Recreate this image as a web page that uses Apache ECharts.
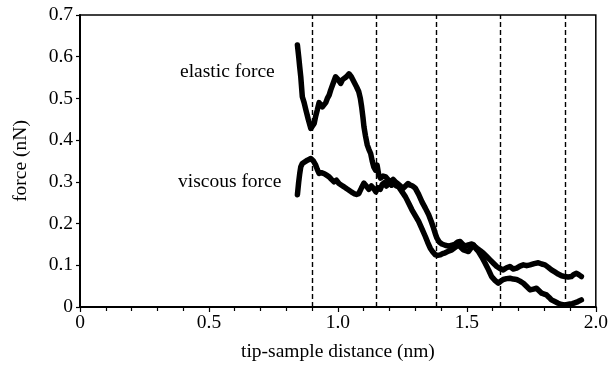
<!DOCTYPE html>
<html>
<head>
<meta charset="utf-8">
<script src="https://cdn.jsdelivr.net/npm/echarts@6/dist/echarts.min.js"></script>
<style>html,body{margin:0;padding:0;background:#fff}#c{width:611px;height:370px}</style>
</head>
<body>
<div id="c"></div>
<script>
var elasticX = [0.843,0.848,0.852,0.856,0.862,0.869,0.876,0.885,0.895,0.902,0.908,0.914,0.920,0.927,0.933,0.940,0.946,0.953,0.959,0.966,0.972,0.981,0.991,1.001,1.011,1.018,1.024,1.033,1.043,1.052,1.062,1.072,1.081,1.087,1.092,1.097,1.101,1.107,1.114,1.120,1.127,1.133,1.139,1.146,1.152,1.158,1.165,1.175,1.185,1.195,1.204,1.214,1.223,1.233,1.243,1.252,1.262,1.272,1.281,1.290,1.300,1.313,1.326,1.339,1.352,1.362,1.371,1.378,1.384,1.394,1.403,1.416,1.429,1.442,1.455,1.465,1.474,1.484,1.494,1.506,1.519,1.529,1.539,1.552,1.564,1.577,1.590,1.603,1.616,1.629,1.641,1.654,1.667,1.680,1.693,1.706,1.719,1.732,1.745,1.761,1.777,1.790,1.803,1.816,1.828,1.841,1.854,1.867,1.880,1.893,1.905,1.915,1.925,1.935,1.944];
var elasticY = [0.628,0.600,0.575,0.552,0.504,0.490,0.472,0.450,0.428,0.432,0.440,0.458,0.472,0.490,0.492,0.480,0.476,0.490,0.500,0.508,0.520,0.535,0.552,0.545,0.536,0.545,0.544,0.552,0.559,0.552,0.540,0.528,0.516,0.500,0.480,0.455,0.432,0.410,0.388,0.378,0.368,0.350,0.336,0.328,0.340,0.318,0.309,0.314,0.312,0.305,0.300,0.306,0.300,0.295,0.290,0.284,0.290,0.296,0.292,0.290,0.285,0.270,0.252,0.237,0.221,0.205,0.189,0.175,0.165,0.155,0.151,0.148,0.146,0.148,0.151,0.156,0.157,0.150,0.146,0.149,0.151,0.146,0.141,0.135,0.129,0.121,0.113,0.105,0.097,0.092,0.089,0.094,0.097,0.091,0.093,0.098,0.101,0.099,0.101,0.104,0.106,0.103,0.101,0.095,0.089,0.084,0.079,0.075,0.073,0.072,0.073,0.078,0.081,0.077,0.073];
var viscousX = [0.843,0.848,0.852,0.856,0.862,0.869,0.882,0.895,0.905,0.914,0.920,0.927,0.936,0.946,0.956,0.966,0.975,0.985,0.994,1.004,1.014,1.024,1.033,1.043,1.052,1.062,1.072,1.081,1.091,1.101,1.110,1.120,1.130,1.139,1.147,1.155,1.164,1.172,1.180,1.188,1.198,1.208,1.217,1.227,1.236,1.249,1.262,1.275,1.287,1.300,1.313,1.326,1.339,1.348,1.358,1.368,1.378,1.387,1.397,1.406,1.416,1.429,1.442,1.455,1.468,1.478,1.487,1.496,1.506,1.516,1.526,1.535,1.545,1.558,1.571,1.584,1.596,1.609,1.622,1.632,1.641,1.654,1.667,1.680,1.693,1.706,1.719,1.732,1.745,1.758,1.770,1.780,1.790,1.800,1.809,1.819,1.828,1.841,1.854,1.867,1.880,1.890,1.899,1.909,1.918,1.931,1.944];
var viscousY = [0.269,0.300,0.320,0.336,0.344,0.348,0.352,0.356,0.350,0.340,0.330,0.320,0.322,0.320,0.316,0.312,0.306,0.300,0.304,0.296,0.292,0.288,0.284,0.280,0.276,0.272,0.270,0.272,0.285,0.297,0.290,0.282,0.290,0.284,0.276,0.286,0.282,0.294,0.298,0.290,0.298,0.292,0.296,0.290,0.288,0.276,0.264,0.248,0.233,0.219,0.205,0.187,0.169,0.155,0.141,0.132,0.125,0.124,0.125,0.128,0.130,0.134,0.137,0.143,0.149,0.142,0.137,0.135,0.133,0.141,0.149,0.140,0.133,0.120,0.105,0.089,0.073,0.064,0.057,0.062,0.066,0.068,0.069,0.067,0.066,0.062,0.057,0.049,0.041,0.043,0.045,0.039,0.033,0.031,0.029,0.023,0.017,0.013,0.009,0.006,0.005,0.006,0.007,0.008,0.010,0.013,0.017];
var dashX = [0.901, 1.153, 1.381, 1.629, 1.876];
var xTickLabels = {0: '0', 0.5: '0.5', 1: '1.0', 1.5: '1.5', 2: '2.0'};
var yTickLabels = {0: '0', 0.1: '0.1', 0.2: '0.2', 0.3: '0.3', 0.4: '0.4', 0.5: '0.5', 0.6: '0.6', 0.7: '0.7'};
var seriesNames = ['elastic force', 'viscous force'];
var xName = 'tip-sample distance (nm)';
var yName = 'force (nN)';

function zip(xs, ys) { return xs.map(function (x, i) { return [x, ys[i]]; }); }
var font = 'Liberation Serif';
var fs = 19.5;
var chart = echarts.init(document.getElementById('c'), null, {renderer: 'canvas'});
chart.setOption({
  animation: false,
  backgroundColor: '#fff',
  grid: {left: 80, right: 13, top: 15, bottom: 63, show: true, borderColor: '#000', borderWidth: 1.5, backgroundColor: 'transparent'},
  xAxis: {
    type: 'value', min: 0, max: 2, interval: 0.5,
    name: xName, nameLocation: 'middle', nameGap: 35,
    nameTextStyle: {fontFamily: font, fontSize: fs, color: '#000'},
    axisLine: {lineStyle: {color: '#000', width: 2}},
    axisTick: {length: 5, lineStyle: {color: '#000', width: 1.2}},
    minorTick: {show: true, splitNumber: 5, length: 4, lineStyle: {color: '#000', width: 1.2}},
    splitLine: {show: false},
    axisLabel: {fontFamily: font, fontSize: fs, color: '#000', margin: 6,
      formatter: function (v) { var k = Math.round(v * 10) / 10; return xTickLabels[k] !== undefined ? xTickLabels[k] : ''; }}
  },
  yAxis: {
    type: 'value', min: 0, max: 0.7, interval: 0.1,
    name: yName, nameLocation: 'middle', nameGap: 49, nameRotate: 90,
    nameTextStyle: {fontFamily: font, fontSize: fs, color: '#000'},
    axisLine: {lineStyle: {color: '#000', width: 2}},
    axisTick: {length: 4, lineStyle: {color: '#000', width: 1.2}},
    splitLine: {show: false},
    axisLabel: {fontFamily: font, fontSize: fs, color: '#000', margin: 7,
      formatter: function (v) { var k = Math.round(v * 10) / 10; return yTickLabels[k] !== undefined ? yTickLabels[k] : ''; }}
  },
  series: [
    {
      name: seriesNames[0], type: 'line', data: zip(elasticX, elasticY), showSymbol: false,
      lineStyle: {color: '#000', width: 5.5, cap: 'round', join: 'round'}, z: 3,
      markLine: {
        silent: true, symbol: 'none', label: {show: false},
        lineStyle: {color: '#000', type: [5, 3], width: 1.4},
        data: dashX.map(function (x) { return {xAxis: x}; })
      }
    },
    {
      name: seriesNames[1], type: 'line', data: zip(viscousX, viscousY), showSymbol: false,
      lineStyle: {color: '#000', width: 5.5, cap: 'round', join: 'round'}, z: 3
    }
  ],
  graphic: [
    {type: 'text', left: 180, top: 62, style: {text: seriesNames[0], font: '19.5px "Liberation Serif"', fill: '#000'}},
    {type: 'text', left: 178, top: 172, style: {text: seriesNames[1], font: '19.5px "Liberation Serif"', fill: '#000'}}
  ]
});
</script>
</body>
</html>
